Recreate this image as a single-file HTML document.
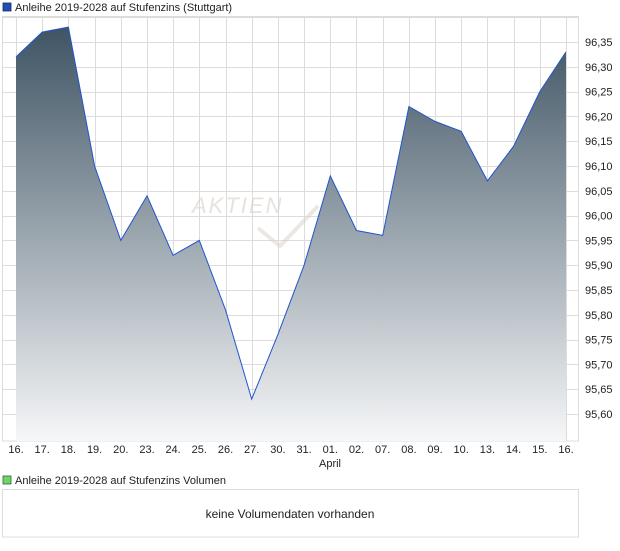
<!DOCTYPE html><html><head><style>body{margin:0;background:#fff;font-family:"Liberation Sans",sans-serif;}</style></head><body>
<svg width="620" height="546" xmlns="http://www.w3.org/2000/svg" font-family="Liberation Sans, sans-serif" font-size="11">
<defs><linearGradient id="g" gradientUnits="userSpaceOnUse" x1="0" y1="27" x2="0" y2="441"><stop offset="0" stop-color="#3f5464"/><stop offset="1" stop-color="#f6f7f8"/></linearGradient></defs>
<rect x="3" y="3" width="8" height="8" fill="#1f4fb5" stroke="#1a2a60" stroke-width="0.8"/>
<text x="15" y="11" fill="#222">Anleihe 2019-2028 auf Stufenzins (Stuttgart)</text>
<g id="grid" stroke="#dcdcdc" stroke-width="1"></g>
<rect x="2.5" y="16.5" width="576" height="424.5" fill="none" stroke="#dcdcdc"/>
<path id="area" fill="url(#g)"/>
<path id="line" fill="none" stroke="#2255cc" stroke-width="1"/>
<text x="192" y="213" font-size="22" fill="#d8cfc6" letter-spacing="2" font-style="italic" opacity="0.6">AKTIEN</text>
<path d="M258 228 L280 246 L318 206" fill="none" stroke="#d8cfc6" stroke-width="4" opacity="0.5"/>
<g id="yl" fill="#222"></g>
<g id="xl" fill="#222" text-anchor="middle"></g>
<text x="330" y="467" text-anchor="middle" fill="#222">April</text>
<rect x="3" y="476" width="8" height="8" fill="#6dd46d" stroke="#2a6a2a" stroke-width="0.8"/>
<text x="15" y="484" fill="#222">Anleihe 2019-2028 auf Stufenzins Volumen</text>
<rect x="2.5" y="489.5" width="576" height="47.5" fill="none" stroke="#dcdcdc"/>
<text x="290" y="518" text-anchor="middle" font-size="12" fill="#222">keine Volumendaten vorhanden</text>
</svg>
<script>
var v=[96.32,96.37,96.38,96.10,95.95,96.04,95.92,95.95,95.81,95.63,95.76,95.90,96.08,95.97,95.96,96.22,96.19,96.17,96.07,96.14,96.25,96.33];
var lab=["16.","17.","18.","19.","20.","23.","24.","25.","26.","27.","30.","31.","01.","02.","07.","08.","09.","10.","13.","14.","15.","16."];
function X(i){return 16+i*550/21}function Y(t){return 42+(96.35-t)/0.05*24.8}
var g=document.getElementById("grid"),s="";
for(var i=0;i<22;i++){var x=Math.round(X(i))+.5;s+='<line x1="'+x+'" y1="16" x2="'+x+'" y2="441"/>';}
for(var k=0;k<=15;k++){var y=Math.round(Y(96.35-k*0.05))+.5;s+='<line x1="2" y1="'+y+'" x2="578" y2="'+y+'"/>';}
var y0=Math.round(Y(96.40))+.5;s+='<line x1="2" y1="'+y0+'" x2="578" y2="'+y0+'"/>';
g.innerHTML=s;
var p="";for(i=0;i<22;i++)p+=(i?"L":"M")+X(i).toFixed(1)+" "+Y(v[i]).toFixed(1);
document.getElementById("line").setAttribute("d",p);
document.getElementById("area").setAttribute("d",p+"L566 441L16 441Z");
s="";for(k=0;k<=15;k++){var t=96.35-k*0.05;s+='<text x="585" y="'+(Y(t)+4).toFixed(1)+'">'+t.toFixed(2).replace(".",",")+'</text>';}
document.getElementById("yl").innerHTML=s;
s="";for(i=0;i<22;i++)s+='<text x="'+X(i).toFixed(1)+'" y="453">'+lab[i]+'</text>';
document.getElementById("xl").innerHTML=s;
</script>
</body></html>
